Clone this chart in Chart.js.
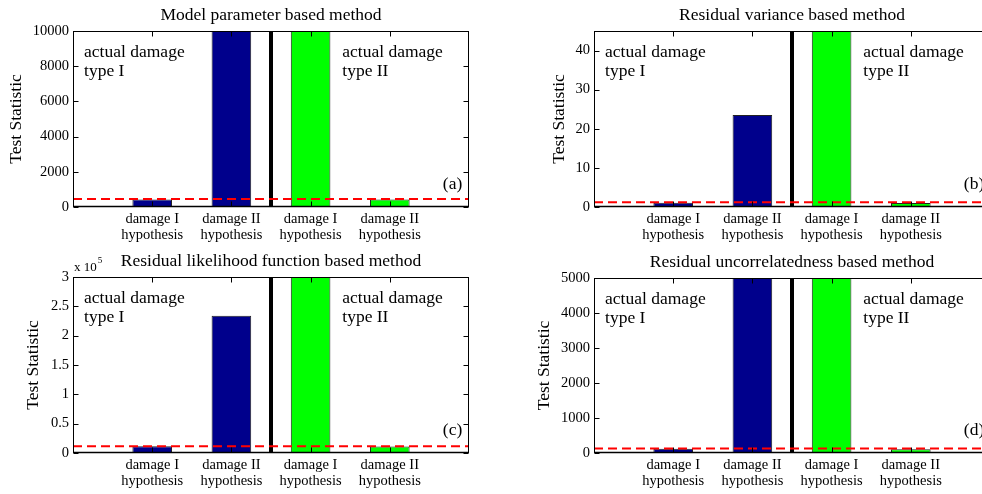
<!DOCTYPE html>
<html><head><meta charset="utf-8">
<script src="https://cdn.jsdelivr.net/npm/chart.js@4/dist/chart.umd.min.js"></script>
<style>
html,body{margin:0;padding:0;background:#fff;overflow:hidden;width:982px;height:494px;}
canvas{position:absolute;}
</style></head><body>
<canvas id="c0" width="491" height="247" style="left:0;top:0"></canvas>
<canvas id="c1" width="491" height="247" style="left:521px;top:0"></canvas>
<canvas id="c2" width="491" height="247" style="left:0;top:247px"></canvas>
<canvas id="c3" width="491" height="247" style="left:521px;top:247px"></canvas>
<script>
// ---- data ----
const categories = [['damage I','hypothesis'],['damage II','hypothesis'],['damage I','hypothesis'],['damage II','hypothesis']];
const barPositions = [1, 2, 3, 4];
const xRange = [0, 5];
const separatorX = 2.5;
const panelTitles = ['Model parameter based method','Residual variance based method','Residual likelihood function based method','Residual uncorrelatedness based method'];
const panelLetters = ['(a)','(b)','(c)','(d)'];
const valuesA = [420, 15000, 15000, 430];
const valuesB = [1.1, 23.5, 60, 1.0];
const valuesC = [11400, 234000, 400000, 11000];
const valuesD = [120, 8000, 8000, 110];
const thresholds = [450, 1.2, 11500, 130];
const yMaxima = [10000, 45, 300000, 5000];
const yTickSteps = [2000, 10, 50000, 1000];
const yExponent = [null, null, 5, null];
const hypothesisColors = ['#00008c','#00008c','#00ff00','#00ff00'];
const regionLabels = [['actual damage','type I'],['actual damage','type II']];
const regionLabelX = [0.14, 3.4];
const letterX = 4.67;
const yLabel = 'Test Statistic';

// ---- styling / layout ----
const SERIF = "'Liberation Serif','Times New Roman',serif";
const panelLayout = [
  {xh: 40, tp: 6, top: 31},
  {xh: 40, tp: 28, top: 31},
  {xh: 41, tp: 23, top: 30},
  {xh: 41, tp: 12.5, top: 31}
];

const framePlugin = {
  id: 'frame',
  afterDatasetsDraw(chart, args, opts) {
    const {ctx, chartArea: a, scales: {x, y}} = chart;
    ctx.save();
    ctx.strokeStyle = '#000';
    ctx.lineWidth = 1;
    const L = Math.round(a.left) + 0.5, R = Math.round(a.right) - 0.5;
    const T = Math.round(a.top) + 0.5, B = Math.round(a.bottom) - 0.5;
    ctx.strokeRect(L, T, R - L, B - T);
    ctx.beginPath();
    y.ticks.forEach(t => {
      const py = Math.round(y.getPixelForValue(t.value)) + 0.5;
      ctx.moveTo(L, py); ctx.lineTo(L + 5, py);
      ctx.moveTo(R, py); ctx.lineTo(R - 5, py);
    });
    barPositions.forEach(v => {
      const px = Math.round(x.getPixelForValue(v)) + 0.5;
      ctx.moveTo(px, B); ctx.lineTo(px, B - 5);
      ctx.moveTo(px, T); ctx.lineTo(px, T + 5);
    });
    ctx.stroke();
    ctx.lineWidth = 1.5;
    ctx.beginPath(); ctx.moveTo(L, B); ctx.lineTo(R, B); ctx.stroke();
    ctx.restore();
  },
  afterDraw(chart, args, opts) {
    const {ctx, chartArea: a, scales: {x}} = chart;
    ctx.save();
    ctx.fillStyle = '#000';
    ctx.textBaseline = 'middle';
    // panel title, centred over the plot area
    ctx.font = "17.5px " + SERIF;
    ctx.textAlign = 'center';
    ctx.fillText(opts.title, (a.left + a.right) / 2, a.top - 16);
    ctx.textAlign = 'left';
    regionLabels.forEach((lines, k) => {
      const px = x.getPixelForValue(regionLabelX[k]);
      lines.forEach((ln, j) => ctx.fillText(ln, px, a.top + 21 + j * 19));
    });
    ctx.fillText(opts.letter, x.getPixelForValue(letterX), a.bottom - 23);
    if (opts.exponent != null) {
      ctx.font = "13px " + SERIF;
      ctx.fillText('x 10', a.left + 1, a.top - 9);
      const w = ctx.measureText('x 10').width;
      ctx.font = "9px " + SERIF;
      ctx.fillText(String(opts.exponent), a.left + 2 + w, a.top - 16);
    }
    ctx.restore();
  }
};

function makePanel(i, values) {
  const layout = panelLayout[i];
  new Chart(document.getElementById('c' + i), {
    type: 'bar',
    data: {
      datasets: [
        {type: 'line', data: xRange.map(xv => ({x: xv, y: thresholds[i]})), borderColor: '#ff0000', borderWidth: 2, borderDash: [9, 5], pointRadius: 0, fill: false},
        {type: 'line', data: [{x: separatorX, y: 0}, {x: separatorX, y: yMaxima[i]}], borderColor: '#000', borderWidth: 4, pointRadius: 0, fill: false},
        {type: 'bar', data: barPositions.map((p, k) => ({x: p, y: values[k]})), backgroundColor: hypothesisColors, borderColor: '#222', borderWidth: 1, categoryPercentage: 1, barPercentage: 0.5}
      ]
    },
    options: {
      responsive: false, animation: false, events: [],
      layout: {padding: {left: 0, right: 22, top: layout.top, bottom: 0}},
      plugins: {
        legend: {display: false},
        tooltip: {enabled: false},
        title: {display: false},
        frame: {letter: panelLetters[i], exponent: yExponent[i], title: panelTitles[i]}
      },
      scales: {
        x: {
          type: 'linear', min: xRange[0], max: xRange[1], offset: false,
          grid: {display: false, drawTicks: false, offset: false}, border: {display: false},
          ticks: {stepSize: 1, autoSkip: false, maxRotation: 0, padding: 5, color: '#000',
            font: {family: SERIF, size: 14.5, lineHeight: 1.05},
            callback: v => { const k = barPositions.indexOf(v); return k >= 0 ? categories[k] : ''; }},
          afterFit(s) { s.height = layout.xh; }
        },
        y: {
          min: 0, max: yMaxima[i],
          grid: {display: false, drawTicks: false}, border: {display: false},
          ticks: {stepSize: yTickSteps[i], includeBounds: false, padding: 4, color: '#000',
            font: {family: SERIF, size: 14.5},
            callback: v => yExponent[i] != null ? String(v / Math.pow(10, yExponent[i])) : String(v)},
          title: {display: true, text: yLabel, color: '#000', font: {family: SERIF, size: 17.5, lineHeight: 1.2}, padding: {top: layout.tp, bottom: 0}},
          afterFit(s) { s.width = 73; }
        }
      }
    },
    plugins: [framePlugin]
  });
}

makePanel(0, valuesA);
makePanel(1, valuesB);
makePanel(2, valuesC);
makePanel(3, valuesD);
</script>
</body></html>
